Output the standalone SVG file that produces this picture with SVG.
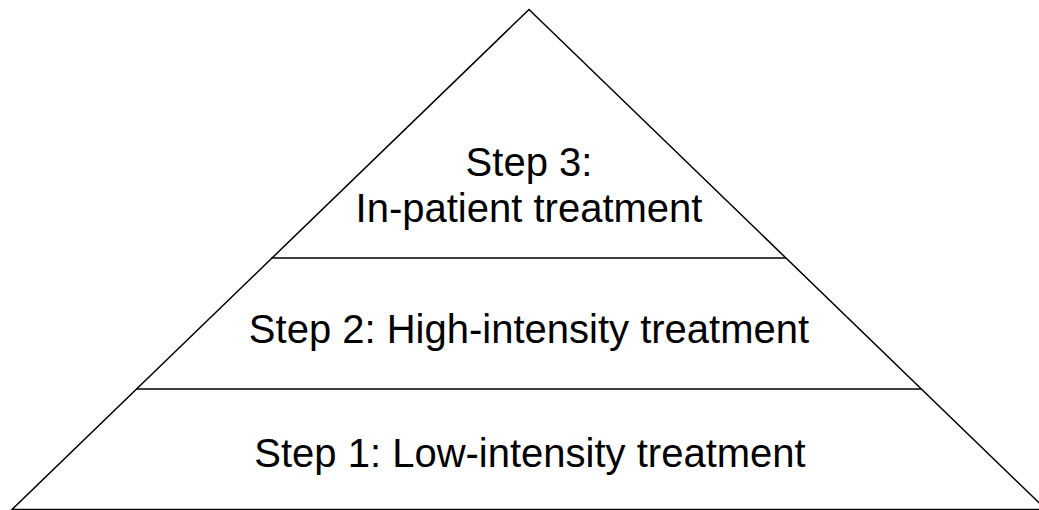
<svg xmlns="http://www.w3.org/2000/svg" width="1039" height="510" viewBox="0 0 1039 510">
<style>
.edge{fill:none;stroke:#000;stroke-width:1.5}
.lbl{font-family:"Liberation Sans",Arial,sans-serif;font-size:40px;fill:#000;text-anchor:middle}
</style>
<rect width="1039" height="510" fill="#fff"/>
<g id="connectors">
<polygon class="edge" points="529,9.5 12,509.5 1046,509.5"/>
<line class="edge" x1="271" y1="258" x2="786" y2="258"/>
<line class="edge" x1="136" y1="389" x2="921" y2="389"/>
</g>
<g id="step3">
<text class="lbl" x="529" y="176">Step 3:</text>
<text class="lbl" x="529" y="222">In-patient treatment</text>
</g>
<g id="step2">
<text class="lbl" x="529" y="343">Step 2: High-intensity treatment</text>
</g>
<g id="step1">
<text class="lbl" x="530" y="467">Step 1: Low-intensity treatment</text>
</g>
</svg>
